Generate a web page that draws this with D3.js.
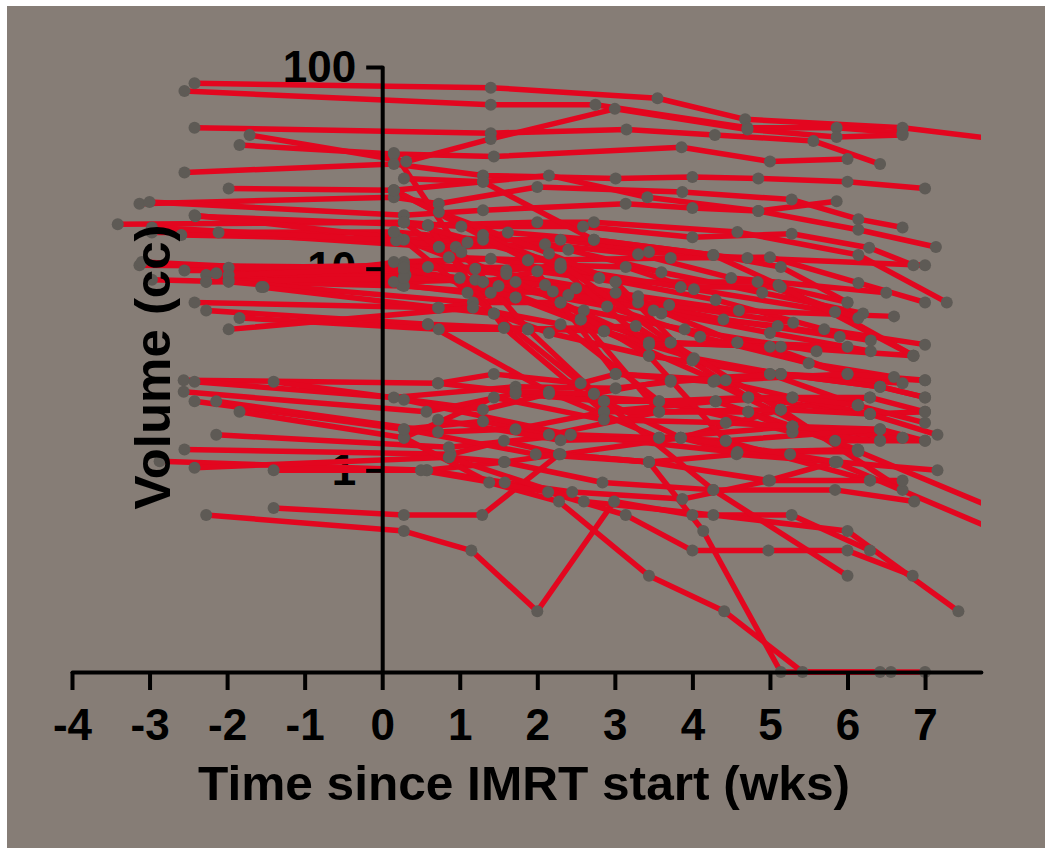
<!DOCTYPE html>
<html>
<head>
<meta charset="utf-8">
<script src="https://cdn.jsdelivr.net/npm/d3@7"></script>
<style>
  body { margin: 0; background: #fff; }
  text { font-family: "Liberation Sans", Arial, sans-serif; font-weight: bold; fill: #000; }
</style>
</head>
<body>
<svg id="chart" width="1045" height="848"></svg>
<script>
// Each series is one patient: [weeks since IMRT start, volume in cc]
const topSeries = [
  [[-2.42, 83], [1.4, 79], [3.55, 70], [4.68, 55], [6.71, 50], [8.1, 43]],
  [[-2.55, 76], [1.4, 65], [2.75, 65], [4.71, 50], [5.86, 50], [6.71, 47]],
  [[-2.42, 50], [1.4, 47], [3.15, 49], [4.29, 46], [5.56, 43], [6.42, 33]],
  [[-1.84, 41], [0.15, 37], [1.44, 36], [3.86, 40], [5.0, 34], [6.0, 35]],
  [[-1.71, 46], [0.31, 34], [1.4, 44], [3.0, 62], [4.71, 49], [5.86, 45], [6.71, 46]],
  [[-2.55, 30], [0.15, 33], [1.3, 29], [3.01, 28], [4.0, 28.5], [4.85, 28], [6.0, 27], [7.0, 25]],
  [[-1.98, 25], [0.15, 24.5], [1.3, 27], [2.15, 29], [3.42, 22.6], [4.85, 19.3], [5.86, 21.6]],
  [[-3.13, 21], [0.15, 22.6], [0.73, 21], [2.0, 25.4], [3.87, 24], [5.28, 22], [6.14, 17.6], [6.71, 16]],
  [[-3.0, 21.4], [0.28, 18.4], [1.3, 19.5], [3.14, 21], [4.0, 20], [4.85, 19.3], [6.14, 15.6], [7.14, 12.8]],
  [[-3.41, 16.6], [0.28, 17], [1.02, 16.2], [2.59, 16.2], [4.0, 14.3], [5.28, 14.9], [6.28, 12.7], [6.85, 10.4]],
  [[-2.41, 18.2], [0.59, 16.4], [2.0, 17], [2.73, 17], [4.58, 15.2], [6.14, 11.7], [7.28, 6.8]],
  [[-2.97, 15.1], [0.15, 15.2], [1.3, 13.9], [2.3, 13.9], [3.44, 12.1], [4.71, 11.3], [7.0, 10.4]],
  [[-2.59, 14.7], [0.28, 13.9], [0.86, 11.4], [1.88, 11], [3.72, 11.3], [5.0, 11.4], [6.14, 8.5], [7.0, 6.8]],
  [[-2.11, 15.1], [0.73, 12.8], [1.62, 15.1], [2.73, 13.9], [4.27, 11.7], [5.14, 10.2], [6.0, 6.8]],
  [[-2.42, 18.4], [0.2, 14.2], [1.1, 13.5], [2.4, 12.4], [3.6, 9.6], [4.9, 7.6], [6.2, 6.0]],
  [[-2.97, 16], [0.18, 13.8], [0.95, 12.8], [2.1, 13.2], [3.3, 11.8], [4.5, 9.0], [6.5, 7.6]],
  [[-3.13, 10.4], [0.28, 10.1], [1.6, 9.8], [2.3, 10.4], [3.14, 10.2], [4.02, 7.9], [5.84, 6.1], [6.85, 3.7]],
  [[-3.1, 10.8], [0.3, 9.3], [1.5, 8.2], [2.9, 6.5], [4.1, 4.6], [5.5, 3.4], [6.6, 2.9]],
  [[-2.27, 8.6], [0.28, 10.8], [1.2, 10.0], [2.5, 8.0], [3.6, 6.0], [5.1, 5.2], [6.3, 4.4]],
  [[-1.98, 8.8], [0.25, 8.3], [1.1, 7.6], [2.6, 6.2], [3.9, 5.0], [5.6, 3.9]],
  [[-1.53, 8.1], [0.15, 10.8], [1.4, 11.2], [2.8, 9.0], [4.3, 7.0], [5.7, 5.0], [7.0, 4.2]],
  [[-2.55, 9.8], [0.28, 9.8], [1.0, 9.0], [2.1, 8.3], [3.3, 6.8], [4.4, 5.6], [5.9, 4.6]],
  [[-2.27, 9.3], [0.15, 8.6], [1.2, 8.8], [2.4, 7.4], [3.7, 6.6], [5.3, 5.4]],
  [[-1.98, 10.1], [0.28, 10.4], [1.6, 9.4], [3.3, 7.3], [4.6, 6.2], [6.6, 5.8]],
  [[-2.97, 8.8], [0.28, 8.2], [1.4, 7.6], [2.2, 7.7], [3.5, 6.2], [5.0, 4.8], [6.3, 3.9]],
  [[-2.14, 9.5], [0.28, 9.1], [1.3, 8.6], [2.0, 9.7], [3.01, 8.6], [4.84, 8.6], [6.14, 5.7]],
  [[-1.98, 9.3], [0.59, 10.2], [2.3, 10.1], [3.85, 8.1], [5.14, 8.1], [6.0, 6.8]],
  [[-2.27, 8.6], [0.28, 9], [1.72, 8.6], [3.01, 7.6], [4.58, 4.3], [6.0, 4.1]],
  [[-1.98, 8.6], [1.17, 6.8], [2.3, 6.8], [3.44, 4.3], [5.14, 4.1], [6.85, 3.7]],
  [[-1.56, 8.1], [0.73, 6.4], [1.72, 7.2], [2.56, 5.6], [3.72, 4.3], [5.0, 4.1], [6.42, 2.6]],
  [[-2.42, 6.8], [0.72, 6.4], [1.44, 6], [2.15, 4.8], [3.44, 3.7], [5.0, 3.0], [7.0, 2.8]],
  [[-2.27, 6.2], [0.59, 5.3], [1.57, 5.1], [2.86, 4.9], [4.02, 3.6], [5.14, 3.0], [6.42, 2.6], [7.0, 2.3]],
  [[-1.84, 5.7], [0.73, 5], [1.88, 5], [3.27, 5.2], [4.72, 2.3], [6.29, 1.9], [7.0, 1.95]],
  [[-1.98, 5], [1.17, 6.4], [2.3, 5.3], [3.57, 2.2], [5.29, 1.55], [6.42, 1.4]]
];

const diagSeries = [
  [[0.15, 24.5], [1.3, 14.7], [2.3, 10.1], [3.44, 4.2], [4.58, 4.3], [6.0, 3.0]],
  [[0.73, 19.1], [2.15, 11.9], [3.01, 8.6], [4.0, 3.5], [5.0, 3.0], [6.14, 2.1]],
  [[0.15, 37.5], [1.02, 12.1], [1.88, 5.0], [2.86, 2.2], [3.85, 1.45], [5.14, 2.0], [6.29, 2.3]],
  [[0.28, 17], [1.3, 8.6], [2.56, 5.6], [3.57, 1.95], [4.72, 1.95], [6.14, 1.26]],
  [[0.59, 16.4], [1.57, 5.1], [2.86, 1.95], [4.3, 2.2], [5.29, 1.65], [6.71, 1.45]],
  [[0.15, 15.2], [1.44, 6.0], [2.73, 2.4], [3.72, 2.8], [5.14, 3.0], [6.71, 2.7]],
  [[0.28, 28], [1.3, 27], [2.73, 13.9], [4.27, 11.7], [5.11, 8.3], [6.85, 3.7]],
  [[0.28, 10.1], [1.72, 7.2], [2.86, 4.9], [4.3, 2.8], [5.29, 2.3], [6.29, 1.9]],
  [[0.59, 5.3], [2.15, 2.45], [3.57, 1.45], [5.29, 1.65], [6.42, 1.6]],
  [[0.73, 12.8], [2.3, 6.8], [3.44, 3.7], [4.43, 1.4], [6.29, 0.89]],
  [[0.28, 17], [2.3, 10.6], [3.72, 4.3], [5.14, 2.0], [6.71, 0.8]],
  [[0.15, 24.5], [1.88, 11], [3.01, 3.0], [4.27, 2.75], [5.84, 1.4], [7.0, 1.4]]
];

const lowSeries = [
  [[-2.56, 2.8], [0.72, 2.7], [1.44, 3.0], [2.56, 2.7], [3.01, 3.0], [4.43, 2.8], [6.0, 3.0], [7.0, 2.8]],
  [[-2.42, 2.75], [0.15, 2.3], [1.72, 2.6], [3.01, 2.55], [3.72, 2.75], [5.14, 3.0], [6.42, 2.6], [7.0, 2.3]],
  [[-1.4, 2.75], [1.3, 2.0], [2.15, 2.4], [3.57, 2.2], [4.72, 2.3], [6.29, 2.3], [7.0, 1.95]],
  [[-2.56, 2.45], [0.57, 1.95], [1.72, 2.4], [2.86, 2.2], [4.3, 2.2], [5.29, 2.3], [6.13, 2.1], [7.0, 1.72]],
  [[-2.42, 2.2], [0.28, 1.6], [1.3, 1.75], [2.15, 1.5], [3.57, 1.95], [5.14, 2.0], [6.29, 1.9], [7.16, 1.5]],
  [[-2.14, 2.2], [0.72, 1.55], [1.72, 1.6], [2.86, 1.95], [4.72, 1.95], [5.29, 1.55], [6.42, 1.4]],
  [[-1.84, 1.95], [0.28, 1.45], [1.44, 2.3], [2.86, 1.78], [4.43, 1.72], [5.29, 1.65], [6.71, 1.45]],
  [[-2.14, 1.5], [0.86, 1.3], [2.43, 1.5], [3.57, 1.45], [4.43, 1.4], [6.42, 1.6], [7.0, 1.4]],
  [[-2.55, 1.27], [0.88, 1.2], [1.57, 1.4], [2.3, 1.2], [3.85, 1.45], [4.58, 1.23], [6.13, 1.27]],
  [[-2.87, 1.11], [0.57, 1.0], [1.58, 1.1], [2.28, 1.2], [3.44, 1.1], [4.57, 1.2], [5.87, 1.1], [7.16, 1.0]],
  [[-2.42, 1.03], [0.86, 1.16], [1.57, 1.1], [2.84, 0.87], [4.27, 0.8], [5.84, 0.8], [6.86, 0.7]],
  [[-1.4, 1.0], [0.58, 1.0], [1.58, 0.87], [2.45, 0.78], [3.87, 0.72], [5.0, 0.89], [6.29, 0.89], [6.71, 0.89]],
  [[-1.4, 0.65], [0.28, 0.6], [1.29, 0.6], [2.28, 1.2], [3.44, 1.1], [4.98, 0.89], [5.84, 1.1]],
  [[-2.27, 0.6], [0.28, 0.5], [1.15, 0.4], [2.0, 0.2], [2.99, 0.7], [4.0, 0.6], [5.28, 0.6], [6.29, 0.4]],
  [[0.28, 1.45], [1.38, 0.87], [2.28, 0.7], [3.44, 0.3], [4.41, 0.2], [5.42, 0.1], [6.42, 0.1], [7.0, 0.1]],
  [[0.28, 1.6], [1.98, 1.2], [3.44, 1.1], [4.14, 0.5], [5.14, 0.1], [6.56, 0.1]],
  [[0.5, 1.0], [2.14, 0.78], [3.14, 0.6], [4.0, 0.4], [4.98, 0.4], [6.0, 0.4], [6.84, 0.3]],
  [[0.86, 1.16], [2.6, 0.7], [4.27, 0.6], [6.0, 0.5], [7.43, 0.2]],
  [[0.72, 2.7], [1.72, 2.45], [2.73, 2.4], [4.27, 0.8], [6.0, 0.3]]
];

// series that run past the right edge of the plot
const edgeSeries = [
  [[0.28, 2.24], [2.43, 1.5], [4.58, 1.23], [6.14, 1.24], [8.1, 0.6]],
  [[0.72, 1.78], [2.3, 1.41], [3.85, 1.45], [5.26, 1.2], [5.84, 1.1], [8.1, 0.47]]
];

const xTicks = [-4, -3, -2, -1, 0, 1, 2, 3, 4, 5, 6, 7];
const yTicks = [1, 10, 100];
const xTitle = "Time since IMRT start (wks)";
const yTitle = "Volume (cc)";

const allSeries = topSeries.concat(diagSeries, lowSeries, edgeSeries);

const svg = d3.select("#chart");
const xMax = 7.72;

const x = d3.scaleLinear().domain([-4, xMax]).range([72, 72 + 11.72 * 77.55]);
const y = d3.scaleLog().domain([0.1, 100]).range([672, 67]);

// background panel
svg.append("rect")
  .attr("x", 7).attr("y", 6)
  .attr("width", 1045).attr("height", 848)
  .attr("fill", "#867d76");

svg.append("clipPath").attr("id", "plot-clip")
  .append("rect")
  .attr("x", 0).attr("y", 0)
  .attr("width", x(xMax)).attr("height", 700);

// y tick labels sit under the data
const yLabels = svg.append("g")
  .attr("transform", `translate(${x(0)},0)`)
  .call(d3.axisLeft(y).tickValues(yTicks).tickSize(0).tickPadding(26).tickFormat(d => String(d)));
yLabels.select(".domain").remove();
yLabels.selectAll("text").attr("font-size", 44).style("font-family", null);

const line = d3.line()
  .x(d => x(d[0]))
  .y(d => y(d[1]));

const plot = svg.append("g").attr("clip-path", "url(#plot-clip)");

plot.selectAll(".patient")
  .data(allSeries)
  .enter()
  .append("path")
  .attr("class", "patient")
  .attr("d", line)
  .attr("fill", "none")
  .attr("stroke", "#e3061f")
  .attr("stroke-width", 5.5)
  .attr("stroke-linejoin", "round")
  .attr("stroke-linecap", "round");

// axes lines on top of the data
const xAxis = svg.append("g")
  .attr("transform", `translate(0,${y(0.1)})`)
  .call(d3.axisBottom(x).tickValues(xTicks).tickSize(18).tickSizeOuter(0)
    .tickPadding(19).tickFormat(d => String(d)));

const yAxis = svg.append("g")
  .attr("transform", `translate(${x(0)},0)`)
  .call(d3.axisLeft(y).tickValues(yTicks).tickSize(16).tickSizeOuter(0).tickFormat(""));

[xAxis, yAxis].forEach(g => {
  g.selectAll(".domain, .tick line")
    .attr("stroke", "#000")
    .attr("stroke-width", 4);
  g.select(".domain").attr("stroke-linecap", "round");
});
xAxis.selectAll("text").attr("font-size", 44).style("font-family", null);

// measured points
const points = allSeries.flat().filter(d => d[0] <= xMax);
plot.selectAll(".pt")
  .data(points)
  .enter()
  .append("circle")
  .attr("class", "pt")
  .attr("cx", d => x(d[0]))
  .attr("cy", d => y(d[1]))
  .attr("r", 6)
  .attr("fill", "#5e5a55");

// axis titles
svg.append("text")
  .attr("x", 524)
  .attr("y", 800)
  .attr("text-anchor", "middle")
  .attr("font-size", 48)
  .attr("textLength", 652)
  .attr("lengthAdjust", "spacingAndGlyphs")
  .text(xTitle);

svg.append("text")
  .attr("transform", "translate(170,367) rotate(-90)")
  .attr("text-anchor", "middle")
  .attr("font-size", 50)
  .attr("textLength", 285)
  .attr("lengthAdjust", "spacingAndGlyphs")
  .text(yTitle);
</script>
</body>
</html>
